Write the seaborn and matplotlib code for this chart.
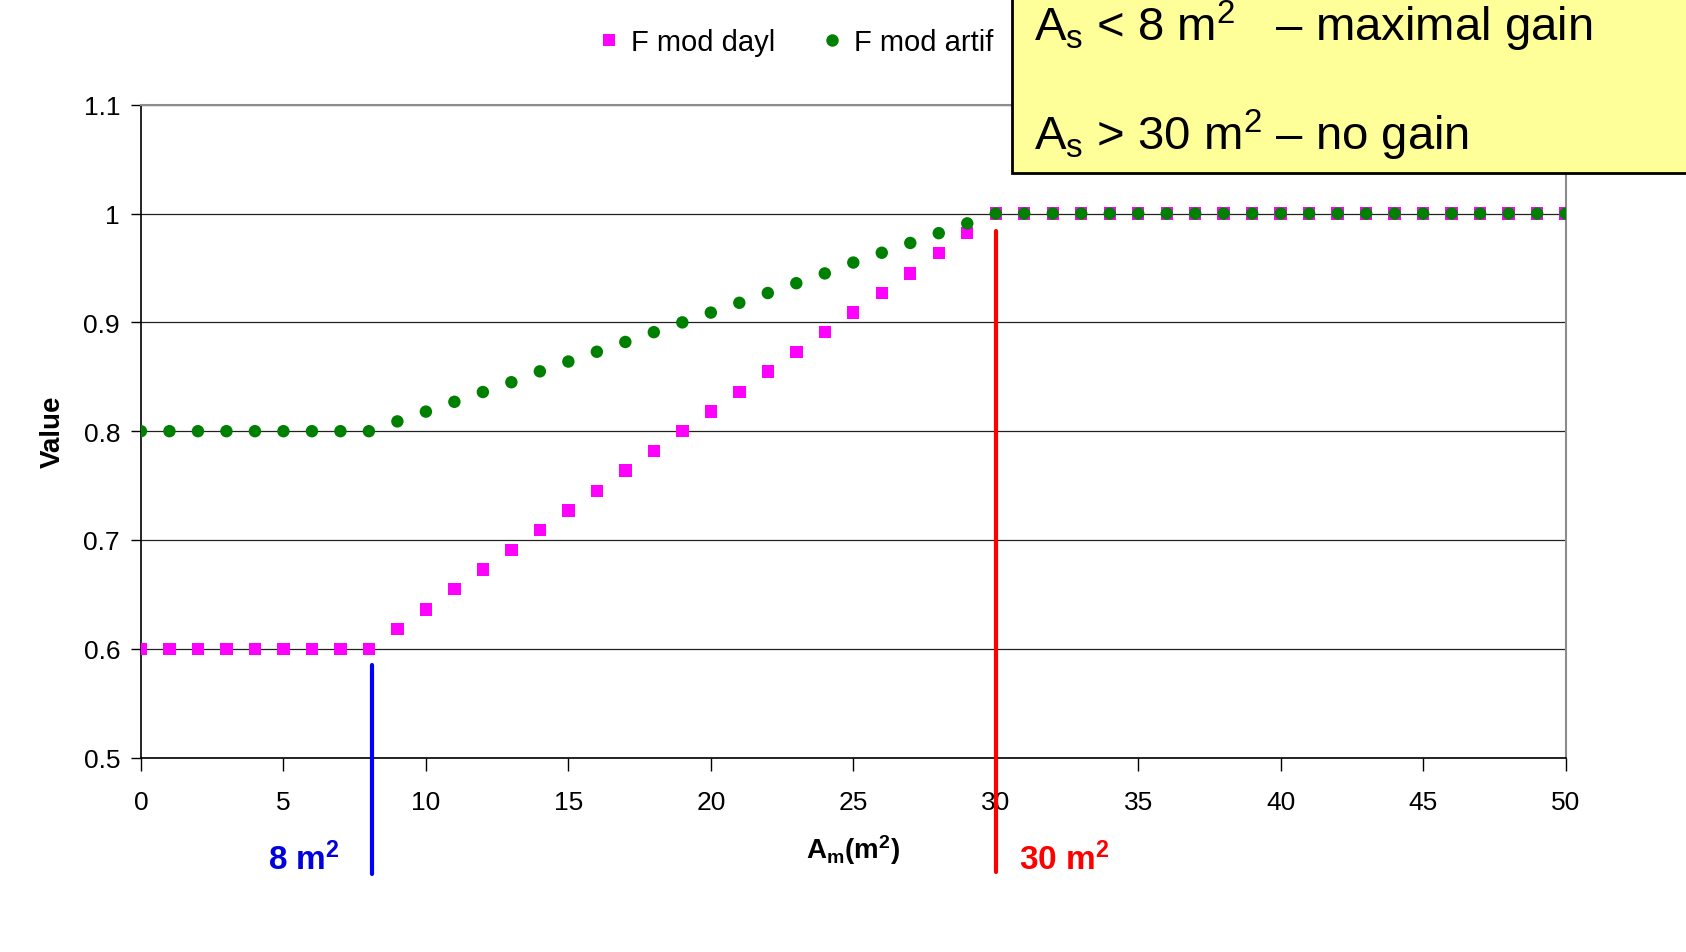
import pandas as pd
import matplotlib.pyplot as plt
import seaborn as sns
from matplotlib.patches import Rectangle
from matplotlib.ticker import FormatStrFormatter

# x values (A_m in m2) and the two series
area = list(range(0, 51))
f_mod_dayl = [0.6, 0.6, 0.6, 0.6, 0.6, 0.6, 0.6, 0.6, 0.6,
              0.618, 0.636, 0.655, 0.673, 0.691, 0.709, 0.727, 0.745, 0.764, 0.782, 0.800,
              0.818, 0.836, 0.855, 0.873, 0.891, 0.909, 0.927, 0.945, 0.964, 0.982,
              1.0, 1.0, 1.0, 1.0, 1.0, 1.0, 1.0, 1.0, 1.0, 1.0, 1.0,
              1.0, 1.0, 1.0, 1.0, 1.0, 1.0, 1.0, 1.0, 1.0, 1.0]
f_mod_artif = [0.8, 0.8, 0.8, 0.8, 0.8, 0.8, 0.8, 0.8, 0.8,
               0.809, 0.818, 0.827, 0.836, 0.845, 0.855, 0.864, 0.873, 0.882, 0.891, 0.900,
               0.909, 0.918, 0.927, 0.936, 0.945, 0.955, 0.964, 0.973, 0.982, 0.991,
               1.0, 1.0, 1.0, 1.0, 1.0, 1.0, 1.0, 1.0, 1.0, 1.0, 1.0,
               1.0, 1.0, 1.0, 1.0, 1.0, 1.0, 1.0, 1.0, 1.0, 1.0]
series_names = ['F mod dayl', 'F mod artif']
y_ticks = [0.5, 0.6, 0.7, 0.8, 0.9, 1.0, 1.1]
x_ticks = [0, 5, 10, 15, 20, 25, 30, 35, 40, 45, 50]
limits = [8, 30]

df = pd.concat([
    pd.DataFrame({'A': area, 'Value': f_mod_dayl, 'series': series_names[0]}),
    pd.DataFrame({'A': area, 'Value': f_mod_artif, 'series': series_names[1]}),
])

sns.set_style('white')
plt.rcParams['font.family'] = ['Liberation Sans', 'DejaVu Sans']
plt.rcParams['mathtext.fontset'] = 'custom'
plt.rcParams['mathtext.rm'] = 'Liberation Sans'
plt.rcParams['mathtext.bf'] = 'Liberation Sans:bold'
plt.rcParams['mathtext.it'] = 'Liberation Sans:italic'
for key in ['text.color', 'axes.labelcolor', 'xtick.color', 'ytick.color']:
    plt.rcParams[key] = 'black'

fig = plt.figure(figsize=(16.86, 9.53), dpi=100)
ax = fig.add_axes([0.0836, 0.204, 0.845, 0.685])

sns.scatterplot(data=df, x='A', y='Value', hue='series', style='series',
                palette={'F mod dayl': '#FF00FF', 'F mod artif': '#008000'},
                markers={'F mod dayl': 's', 'F mod artif': 'o'},
                s=80, linewidth=0, ax=ax, zorder=3)

ax.set_xlim(0, 50)
ax.set_ylim(0.5, 1.1)
ax.set_xticks(x_ticks)
ax.set_yticks(y_ticks)
ax.yaxis.set_major_formatter(FormatStrFormatter('%g'))
ax.tick_params(axis='both', labelsize=19, direction='out', color='black')
ax.tick_params(axis='y', length=7, width=1, left=True, pad=8)
ax.tick_params(axis='x', length=9, width=1, bottom=True, pad=14)
ax.yaxis.grid(True, color='#222222', linewidth=0.9)
ax.set_axisbelow(True)
for side in ['left', 'bottom']:
    ax.spines[side].set_color('black')
    ax.spines[side].set_linewidth(1.2)
for side in ['top', 'right']:
    ax.spines[side].set_color('#8c8c8c')
    ax.spines[side].set_linewidth(1.5)

ax.set_ylabel('Value', fontsize=20, fontweight='bold')
ax.yaxis.set_label_coords(-0.053, 0.5)
ax.set_xlabel(r'$\mathbf{A_m(m^2)}$', fontsize=20)
ax.xaxis.set_label_coords(0.5, -0.115)

# threshold lines below the chart
ax.plot([limits[0] + 0.1, limits[0] + 0.1], [0.585, 0.393], color='#0000FF', linewidth=3, clip_on=False, zorder=4)
ax.plot([limits[1], limits[1]], [0.984, 0.395], color='#FF0000', linewidth=3, clip_on=False, zorder=4)
ax.text(5.73, 0.407, r'$\mathbf{8\ m^2}$', color='#0000DD', fontsize=24, ha='center', va='center', clip_on=False)
ax.text(32.4, 0.407, r'$\mathbf{30\ m^2}$', color='#FF0000', fontsize=24, ha='center', va='center', clip_on=False)

handles, labels = ax.get_legend_handles_labels()
ax.get_legend().remove()
fig.legend(handles, labels, ncol=2, frameon=False, loc='center', bbox_to_anchor=(0.472, 0.955),
           fontsize=21, handlelength=0.7, handletextpad=0.4, columnspacing=1.6)

# yellow note box
box = Rectangle((0.600, 0.817), 0.45, 0.25, transform=fig.transFigure, facecolor='#FFFF99',
                edgecolor='black', linewidth=2, zorder=5)
fig.add_artist(box)
fig.text(0.613, 0.972, r'$\mathrm{A_s}$ < 8 m$^2$   – maximal gain', fontsize=34, va='center', zorder=6)
fig.text(0.613, 0.858, r'$\mathrm{A_s}$ > 30 m$^2$ – no gain', fontsize=34, va='center', zorder=6)

plt.savefig('out.png', dpi=100)
